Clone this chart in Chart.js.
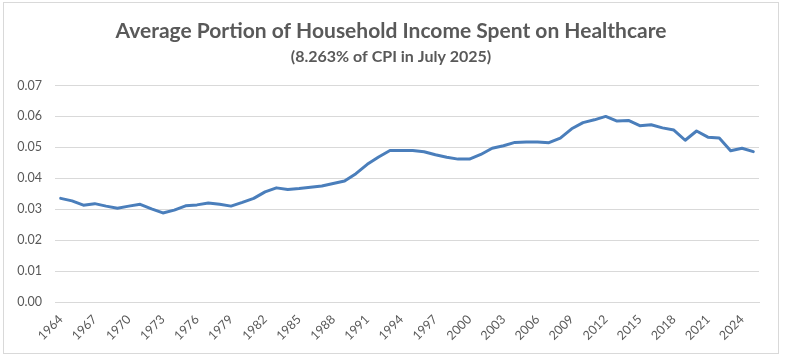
<!DOCTYPE html>
<html>
<head>
<meta charset="utf-8">
<script src="https://cdn.jsdelivr.net/npm/chart.js@4"></script>
<style>
  html, body { margin: 0; padding: 0; background: #ffffff; }
  #wrap { position: relative; width: 788px; height: 360px; }
  #frame { position: absolute; left: 3px; top: 2px; width: 774px; height: 350px; border: 1px solid #d9d9d9; pointer-events: none; }
  canvas { position: absolute; left: 0; top: 0; }
</style>
</head>
<body>
<div id="wrap">
  <canvas id="c" width="788" height="360"></canvas>
  <div id="frame"></div>
</div>
<script>
const titleText = "Average Portion of Household Income Spent on Healthcare";
const subtitleText = "(8.263% of CPI in July 2025)";

const years = [
  1964, 1965, 1966, 1967, 1968, 1969, 1970, 1971, 1972, 1973,
  1974, 1975, 1976, 1977, 1978, 1979, 1980, 1981, 1982, 1983,
  1984, 1985, 1986, 1987, 1988, 1989, 1990, 1991, 1992, 1993,
  1994, 1995, 1996, 1997, 1998, 1999, 2000, 2001, 2002, 2003,
  2004, 2005, 2006, 2007, 2008, 2009, 2010, 2011, 2012, 2013,
  2014, 2015, 2016, 2017, 2018, 2019, 2020, 2021, 2022, 2023,
  2024, 2025
];

const healthShare = [
  0.0335, 0.0327, 0.0313, 0.0318, 0.0310, 0.0303, 0.0310, 0.0316, 0.0301, 0.0288,
  0.0297, 0.0311, 0.0314, 0.0320, 0.0316, 0.0310, 0.0322, 0.0335, 0.0356, 0.0369,
  0.0364, 0.0367, 0.0371, 0.0375, 0.0383, 0.0391, 0.0415, 0.0445, 0.0469, 0.0490,
  0.0490, 0.0490, 0.0486, 0.0476, 0.0468, 0.0462, 0.0462, 0.0477, 0.0497, 0.0505,
  0.0516, 0.0517, 0.0517, 0.0515, 0.0530, 0.0560, 0.0580, 0.0589, 0.0600, 0.0585,
  0.0587, 0.0570, 0.0573, 0.0563, 0.0556, 0.0523, 0.0553, 0.0533, 0.0530, 0.0489,
  0.0497, 0.0486
];

const yTicks = [0.00, 0.01, 0.02, 0.03, 0.04, 0.05, 0.06, 0.07];
const labelEvery = 3;

const textColor = "#595959";
const gridColor = "#d9d9d9";
const fontFamily = "Lato, 'Open Sans', sans-serif";

new Chart(document.getElementById("c"), {
  type: "line",
  data: {
    labels: years.map(String),
    datasets: [{
      data: healthShare,
      borderColor: "#4a7ebb",
      backgroundColor: "#4a7ebb",
      borderWidth: 3,
      pointRadius: 0,
      tension: 0,
      borderJoinStyle: "round",
      borderCapStyle: "round",
      fill: false
    }]
  },
  options: {
    responsive: false,
    animation: false,
    devicePixelRatio: 1,
    layout: { padding: { left: 0, right: 6, top: 0, bottom: 0 } },
    plugins: {
      legend: { display: false },
      tooltip: { enabled: false },
      title: {
        display: true,
        text: titleText,
        color: textColor,
        font: { family: fontFamily, size: 21, weight: "bold", lineHeight: 1.2 },
        padding: { top: 18.5, bottom: 0 }
      },
      subtitle: {
        display: true,
        text: subtitleText,
        color: textColor,
        font: { family: fontFamily, size: 16, weight: "bold", lineHeight: 1.2 },
        padding: { top: 3.2, bottom: 19.4 }
      }
    },
    scales: {
      x: {
        type: "category",
        offset: true,
        grid: { display: false, drawTicks: false },
        border: { display: true, color: gridColor, width: 1 },
        ticks: {
          autoSkip: false,
          minRotation: 45,
          maxRotation: 45,
          padding: 10,
          color: textColor,
          font: { family: fontFamily, size: 12.5 },
          callback: function (value, index) {
            return index % labelEvery === 0 ? String(years[index]) : null;
          }
        },
        afterFit: function (scale) { scale.height = 58; }
      },
      y: {
        min: yTicks[0],
        max: yTicks[yTicks.length - 1],
        grid: { color: gridColor, lineWidth: 1, drawTicks: false },
        border: { display: false },
        afterBuildTicks: function (scale) {
          scale.ticks = yTicks.map(v => ({ value: v }));
        },
        ticks: {
          padding: 13,
          color: textColor,
          font: { family: fontFamily, size: 12.5 },
          callback: function (value) { return Number(value).toFixed(2); }
        },
        afterFit: function (scale) { scale.width = 55; }
      },
      yRight: {
        position: "right",
        display: true,
        grid: { display: false, drawTicks: false },
        border: { display: false },
        ticks: { display: false },
        afterFit: function (scale) { scale.width = 23; }
      }
    }
  }
});
</script>
</body>
</html>
